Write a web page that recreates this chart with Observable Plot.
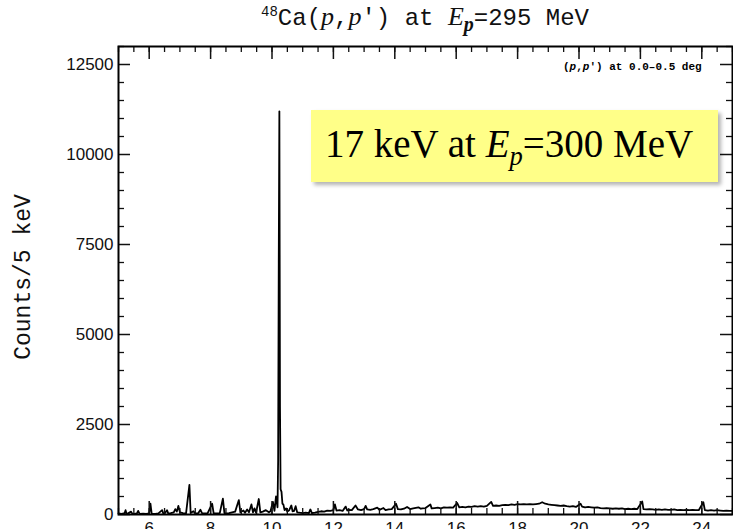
<!DOCTYPE html>
<html><head><meta charset="utf-8">
<script src="https://cdn.jsdelivr.net/npm/d3@7"></script>
<script src="https://cdn.jsdelivr.net/npm/@observablehq/plot@0.6"></script>
<style>
body{margin:0;background:#fff;}
#wrap{position:relative;width:733px;height:529px;overflow:hidden;}
#title{position:absolute;left:0;width:850px;top:2px;text-align:center;font-family:"Liberation Mono",monospace;font-size:24px;color:#111;white-space:nowrap;}
#title i{font-family:"Liberation Serif",serif;font-size:26px;}
#ylab{position:absolute;left:24px;top:277px;transform:translate(-50%,-50%) rotate(-90deg);font-family:"Liberation Mono",monospace;font-size:23px;white-space:nowrap;color:#111;}
#small{position:absolute;left:563px;top:61px;font-family:"Liberation Mono",monospace;font-weight:bold;font-size:11px;white-space:nowrap;}
#box{position:absolute;left:311px;top:110px;width:407px;height:72px;background:#ffff88;box-shadow:3px 3px 4px rgba(0,0,0,0.3);box-sizing:border-box;padding-left:14px;padding-top:12px;font-family:"Liberation Serif",serif;font-size:39px;line-height:44px;white-space:nowrap;color:#000;}
.sb{font-size:0.68em;position:relative;top:0.32em;}
</style></head><body><div id="wrap"></div>
<script>
const energy = [5.0,5.1,5.2,5.23,5.26,5.3,5.41,5.45,5.5,5.6,5.64,5.68,5.7,5.8,5.9,6.0,6.04,6.08,6.1,6.2,6.3,6.42,6.46,6.5,6.58,6.62,6.7,6.8,6.85,6.9,6.95,7.0,7.1,7.2,7.31,7.35,7.44,7.5,7.6,7.67,7.72,7.8,7.9,8.05,8.1,8.2,8.3,8.4,8.45,8.5,8.6,8.7,8.8,8.92,8.97,9.07,9.12,9.19,9.25,9.33,9.38,9.43,9.48,9.57,9.62,9.7,9.8,9.9,9.95,10.03,10.08,10.13,10.18,10.2,10.22,10.24,10.26,10.28,10.31,10.34,10.37,10.41,10.46,10.5,10.56,10.63,10.67,10.72,10.77,10.82,10.9,11.0,11.1,11.2,11.25,11.3,11.4,11.5,11.6,11.7,11.8,11.9,12.0,12.05,12.1,12.2,12.3,12.4,12.45,12.5,12.6,12.72,12.8,12.9,13.0,13.05,13.1,13.2,13.3,13.43,13.5,13.63,13.7,13.8,13.9,14.04,14.1,14.2,14.3,14.4,14.5,14.6,14.77,14.85,14.9,15.0,15.16,15.2,15.3,15.4,15.5,15.6,15.7,15.8,15.9,16.03,16.1,16.2,16.3,16.4,16.5,16.6,16.7,16.8,16.9,17.0,17.14,17.2,17.3,17.4,17.5,17.6,17.7,17.8,17.9,18.0,18.1,18.2,18.3,18.4,18.5,18.6,18.7,18.8,18.9,19.0,19.1,19.2,19.3,19.4,19.5,19.6,19.7,19.8,19.9,20.05,20.1,20.2,20.3,20.4,20.5,20.6,20.7,20.8,20.9,21.0,21.1,21.2,21.3,21.4,21.5,21.6,21.7,21.8,21.9,22.06,22.1,22.2,22.3,22.4,22.5,22.6,22.7,22.8,22.9,23.0,23.1,23.2,23.3,23.4,23.5,23.6,23.7,23.8,23.9,24.05,24.1,24.2,24.3,24.4,24.5,24.6,24.7,24.8,24.9,25.0];
const counts = [30,20,40,120,30,25,80,25,20,30,100,30,20,25,20,30,300,30,25,20,30,120,30,25,120,30,40,60,150,80,240,60,40,30,820,40,90,30,40,130,40,30,30,300,30,30,40,440,40,30,40,60,80,400,60,110,50,140,60,280,60,170,50,430,60,80,120,60,90,350,100,500,200,1500,7000,11200,3000,700,630,300,280,120,170,80,120,250,90,100,230,60,50,40,50,40,140,40,50,70,90,80,110,100,120,280,110,120,100,220,110,130,120,250,140,120,150,240,140,130,150,190,130,180,120,140,150,300,150,140,160,210,150,170,200,160,170,180,280,170,180,190,170,200,190,200,190,320,200,210,200,220,210,230,220,230,220,240,350,240,250,240,260,270,260,280,270,290,280,290,280,290,280,290,300,340,300,280,270,260,250,240,250,230,220,230,210,300,220,200,210,200,190,200,180,170,180,170,160,170,160,170,150,160,150,160,150,360,150,140,150,140,130,140,130,140,130,130,140,120,130,120,130,120,130,120,120,340,120,110,120,110,120,110,100,110,100,100];
const xMajor = [6,8,10,12,14,16,18,20,22,24];
const xMinor = [5,5.5,6,6.5,7,7.5,8,8.5,9,9.5,10,10.5,11,11.5,12,12.5,13,13.5,14,14.5,15,15.5,16,16.5,17,17.5,18,18.5,19,19.5,20,20.5,21,21.5,22,22.5,23,23.5,24,24.5,25];
const yMajor = [0,2500,5000,7500,10000,12500];
const yMinor = [500,1000,1500,2000,3000,3500,4000,4500,5500,6000,6500,7000,8000,8500,9000,9500,10500,11000,11500,12000,13000];

const spectrum = energy.map((e,i)=>({e, c: counts[i]}));
const W = 733, H = 529, mL = 118, mR = 1, mT = 46, mB = 15;
const fw = W - mL - mR, fh = H - mT - mB;

const chart = Plot.plot({
  width: W, height: H,
  marginLeft: mL, marginRight: mR, marginTop: mT, marginBottom: mB,
  x: {domain: [5, 25]},
  y: {domain: [0, 13000]},
  style: {fontFamily: "Liberation Sans, sans-serif", fontSize: "17px", color: "#111", background: "transparent", overflow: "visible"},
  marks: [
    Plot.line(spectrum, {x: "e", y: "c", stroke: "#000", strokeWidth: 1.8}),
    Plot.tickY(yMajor, {y: d => d, insetRight: fw - 12, strokeWidth: 1.5}),
    Plot.tickY(yMinor, {y: d => d, insetRight: fw - 6, strokeWidth: 1.3}),
    Plot.tickY(yMajor, {y: d => d, insetLeft: fw - 12, strokeWidth: 1.5}),
    Plot.tickY(yMinor, {y: d => d, insetLeft: fw - 6, strokeWidth: 1.3}),
    Plot.tickX(xMajor, {x: d => d, insetTop: fh - 13, strokeWidth: 1.5}),
    Plot.tickX(xMinor, {x: d => d, insetTop: fh - 6, strokeWidth: 1.3}),
    Plot.tickX(xMajor, {x: d => d, insetBottom: fh - 13, strokeWidth: 1.5}),
    Plot.tickX(xMinor, {x: d => d, insetBottom: fh - 6, strokeWidth: 1.3}),
    Plot.axisY(yMajor, {anchor: "left", tickSize: 0, tickPadding: 5, label: null, tickFormat: d => String(d), fontSize: 17}),
    Plot.axisX(xMajor, {anchor: "bottom", tickSize: 0, tickPadding: 7, label: null, fontSize: 17}),
    Plot.frame({stroke: "#000", strokeWidth: 2})
  ]
});

const wrap = document.getElementById("wrap");
wrap.appendChild(chart);
wrap.insertAdjacentHTML("beforeend",
  '<div id="title"><sup style="font-size:14px">48</sup>Ca(<i>p</i>,<i>p</i>\u2032) at <i>E</i><sub style="font-family:Liberation Serif;font-style:italic;font-weight:bold">p</sub>=295 MeV</div>' +
  '<div id="ylab">Counts/5 keV</div>' +
  '<div id="small">(<i>p</i>,<i>p</i>\u2032) at 0.0\u20130.5 deg</div>' +
  '<div id="box">17 keV at <i>E</i><i class="sb">p</i>=300 MeV</div>');
</script>
</body></html>
